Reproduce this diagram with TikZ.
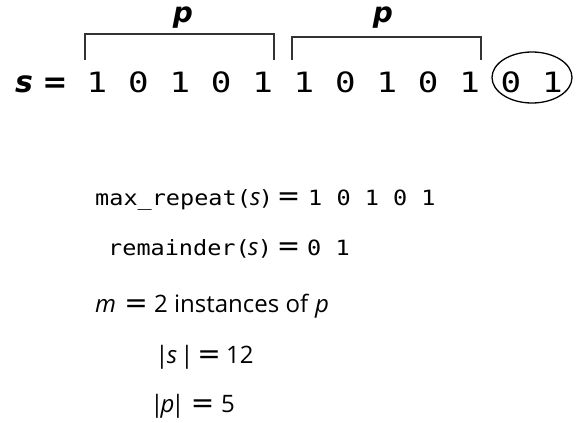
\documentclass[tikz,border=0pt]{standalone}
\usepackage{fontspec}
\usetikzlibrary{shapes.geometric}
\newfontfamily\topmono[FakeStretch=1.22]{DejaVu Sans Mono}
\newfontfamily\lowmono[FakeStretch=1.12]{DejaVu Sans Mono}
\newfontfamily\sansf{Open Sans}
\newfontfamily\boldobl{DejaVu Sans}
\newfontfamily\eqf{DejaVu Sans}
\tikzset{
  every node/.style={inner sep=0pt},
  dig/.style={anchor=base, font=\topmono\fontsize{28}{28}\selectfont},
  lbl/.style={anchor=base, font=\boldobl\bfseries\itshape\fontsize{28}{28}\selectfont},
  brk/.style={line width=1.3pt, draw=black!80},
  mono/.style={anchor=base west, font=\lowmono\fontsize{21}{21}\selectfont},
  monoc/.style={anchor=base, font=\lowmono\fontsize{21}{21}\selectfont},
  txt/.style={anchor=base west, font=\sansf\fontsize{24}{24}\selectfont},
  txtc/.style={anchor=base, font=\sansf\fontsize{24}{24}\selectfont},
  itx/.style={anchor=base west, font=\sansf\itshape\fontsize{24}{24}\selectfont},
  itxc/.style={anchor=base, font=\sansf\itshape\fontsize{24}{24}\selectfont},
  eq/.style={anchor=base, font=\eqf\fontsize{28}{28}\selectfont},
}
\begin{document}
\begin{tikzpicture}[x=1pt,y=-1pt]
\useasboundingbox (0,0) rectangle (576,423);
\fill[white] (0,0) rectangle (576,423);
% s =
\node[lbl, font=\boldobl\bfseries\itshape\fontsize{30}{30}\selectfont] (sv) at (24,92) {s};
\node[anchor=base, font=\boldobl\bfseries\fontsize{30}{30}\selectfont] (seq) at (55,92) {=};
% digits
\foreach \d [count=\i] in {1,0,1,0,1,1,0,1,0,1,0,1}{
  \pgfmathsetmacro{\xx}{97+(\i-1)*41.4}
  \node[dig] (d\i) at (\xx,92) {\d};
}
% brackets
\coordinate (b1a) at (85,60); \coordinate (b1b) at (274,60);
\coordinate (b2a) at (292,60); \coordinate (b2b) at (481,60);
\draw[brk] (b1a) -- ++(0,-26) -| (b1b);
\draw[brk] (b2a) -- ++(0,-23) -| (b2b);
\node[lbl] (p1) at (183,22) {p};
\node[lbl] (p2) at (383,22) {p};
% ellipse around remainder
\node[draw, line width=1.3pt, ellipse, minimum width=80pt, minimum height=51pt] (rem) at (532,77.5) {};
% line 1
\node[mono] (l1a) at (95,205) {max\_repeat(};
\node[itx] (l1s) at (250,205) {s};
\node[monoc] (l1c) at (266,205) {)};
\node[eq] (l1e) at (288.5,205) {=};
\node[mono] (l1d) at (308,205) {1 0 1 0 1};
% line 2
\node[mono] (l2a) at (108,255) {remainder(};
\node[itx] (l2s) at (248,255) {s};
\node[monoc] (l2c) at (265,255) {)};
\node[eq] (l2e) at (288.5,255) {=};
\node[mono] (l2d) at (307,255) {0 1};
% line 3
\node[itx] (l3m) at (95,312) {m};
\node[eq] (l3e) at (136,312) {=};
\node[txt] (l3t) at (154,312) {2 instances of};
\node[itx] (l3p) at (315,312) {p};
% line 4
\node[txtc] (l4b) at (162,363) {|};
\node[itxc] (l4s) at (172,363) {s};
\node[txtc] (l4c) at (187,363) {|};
\node[eq] (l4e) at (209,363) {=};
\node[txt] (l4n) at (226,363) {12};
% line 5
\node[txtc] (l5b) at (157,412) {|};
\node[itxc] (l5p) at (167.5,412) {p};
\node[txtc] (l5c) at (178,412) {|};
\node[eq] (l5e) at (202.5,412) {=};
\node[txt] (l5n) at (221,412) {5};
\end{tikzpicture}
\end{document}
